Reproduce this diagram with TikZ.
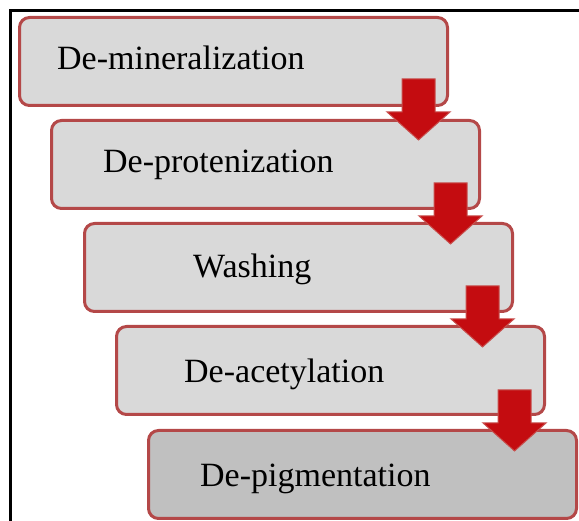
\documentclass[tikz,border=0pt]{standalone}
\usepackage{fontspec}
\setmainfont{Liberation Serif}
\definecolor{boxedge}{RGB}{180,72,72}
\definecolor{boxfill}{RGB}{217,217,217}
\definecolor{boxfilldark}{RGB}{192,192,192}
\definecolor{arrfill}{RGB}{196,12,16}
\definecolor{arredge}{RGB}{200,80,78}
\begin{document}
\begin{tikzpicture}[x=1pt,y=-1pt,
  stagebox/.style={draw=boxedge, line width=3pt, fill=boxfill, rounded corners=10pt,
    minimum width=428pt, minimum height=88pt, anchor=north west, inner sep=0pt},
  stagetext/.style={anchor=base west, inner sep=0pt, font=\fontsize{34}{40}\selectfont},
  blockarrow/.style={fill=arrfill, draw=arredge, line width=1pt, line join=miter},
  frameline/.style={line width=3pt, black}]
\useasboundingbox (0,0) rectangle (579,521);
% frame
\coordinate (ftl) at (10,11);
\coordinate (ftr) at (579,11);
\coordinate (fbl) at (10,521);
\draw[frameline] (ftr) -- (ftl) -- (fbl);
% boxes
\node[stagebox] (b1) at (18,16) {};
\node[stagebox] (b2) at (50,119) {};
\node[stagebox] (b3) at (83,222) {};
\node[stagebox] (b4) at (115,325) {};
\node[stagebox, fill=boxfilldark] (b5) at (147,429) {};
% texts
\node[stagetext] (t1) at (57,70) {De-mineralization};
\node[stagetext] (t2) at (103,173) {De-protenization};
\node[stagetext] (t3) at (193,278) {Washing};
\node[stagetext] (t4) at (184,383) {De-acetylation};
\node[stagetext] (t5) at (200,486) {De-pigmentation};
% arrows
\coordinate (a1) at (418.5,79);
\coordinate (a2) at (450.5,183);
\coordinate (a3) at (482.5,286);
\coordinate (a4) at (514.5,390);
\foreach \a in {a1,a2,a3,a4}{
  \draw[blockarrow] (\a) ++(-16.5,0) -- ++(33,0) -- ++(0,33) -- ++(15,0) -- ++(-31.5,28)
     -- ++(-31.5,-28) -- ++(15,0) -- cycle;
}
\end{tikzpicture}
\end{document}
